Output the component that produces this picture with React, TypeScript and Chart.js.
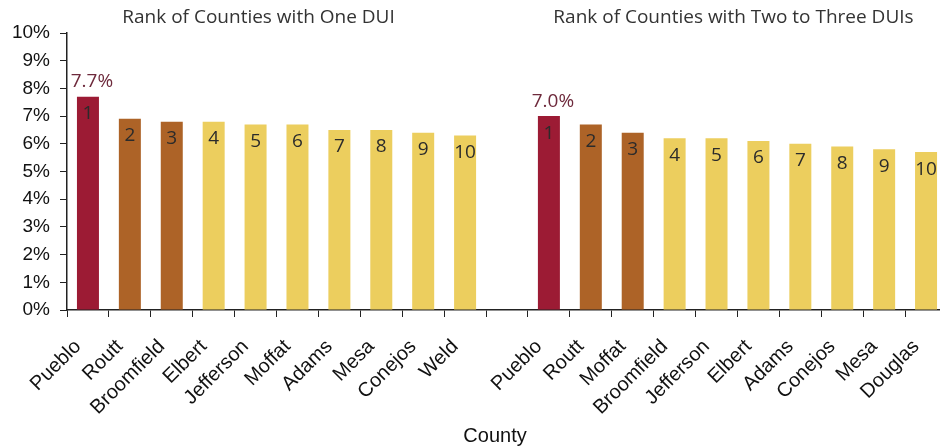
import { useEffect, useRef } from 'react';
import { Chart, registerables } from 'chart.js';

Chart.register(...registerables);

const oneDuiCounties = ['Pueblo', 'Routt', 'Broomfield', 'Elbert', 'Jefferson', 'Moffat', 'Adams', 'Mesa', 'Conejos', 'Weld'];
const oneDuiRates = [7.7, 6.9, 6.8, 6.8, 6.7, 6.7, 6.5, 6.5, 6.4, 6.3];
const twoThreeCounties = ['Pueblo', 'Routt', 'Moffat', 'Broomfield', 'Jefferson', 'Elbert', 'Adams', 'Conejos', 'Mesa', 'Douglas'];
const twoThreeRates = [7.0, 6.7, 6.4, 6.2, 6.2, 6.1, 6.0, 5.9, 5.8, 5.7];
const panelTitles = ['Rank of Counties with One DUI', 'Rank of Counties with Two to Three DUIs'];
const yTickValues = [0, 1, 2, 3, 4, 5, 6, 7, 8, 9, 10];
const xAxisTitle = 'County';

const labels = [...oneDuiCounties, '', ...twoThreeCounties];
const values: (number | null)[] = [...oneDuiRates, null, ...twoThreeRates];
const ranks: (number | null)[] = [
  ...oneDuiRates.map((_, i) => i + 1),
  null,
  ...twoThreeRates.map((_, i) => i + 1),
];

const MAROON = '#9c1b34';
const BROWN = '#ad6327';
const YELLOW = '#ecce5e';

function colorForRank(r: number | null) {
  if (r === 1) return MAROON;
  if (r === 2 || r === 3) return BROWN;
  return YELLOW;
}

const annotations = {
  id: 'annotations',
  afterDatasetsDraw(chart: any) {
    const ctx = chart.ctx as CanvasRenderingContext2D;
    const meta = chart.getDatasetMeta(0);
    const xs = chart.scales.x;
    ctx.save();
    meta.data.forEach((bar: any, i: number) => {
      const v = values[i];
      const r = ranks[i];
      if (v == null || r == null) return;
      ctx.textAlign = 'center';
      ctx.textBaseline = 'middle';
      ctx.font = '19px "Open Sans"';
      ctx.fillStyle = '#2b2b2b';
      ctx.fillText(String(r), bar.x, bar.y + 17);
      if (r === 1) {
        ctx.fillStyle = '#6e2a3c';
        ctx.fillText(v.toFixed(1) + '%', bar.x + 4, bar.y - 15);
      }
    });
    ctx.font = '19px "Open Sans"';
    ctx.fillStyle = '#333333';
    ctx.textAlign = 'center';
    ctx.textBaseline = 'alphabetic';
    const mid1 = xs.getPixelForValue((oneDuiCounties.length - 1) / 2);
    const mid2 = xs.getPixelForValue(oneDuiCounties.length + 1 + (twoThreeCounties.length - 1) / 2);
    ctx.fillText(panelTitles[0], mid1 - 18, 23);
    ctx.fillText(panelTitles[1], mid2 - 4, 23);
    ctx.font = '20px "Liberation Sans"';
    ctx.fillStyle = '#111111';
    const ca = chart.chartArea;
    ctx.fillText(xAxisTitle, (ca.left + ca.right) / 2 - 12, 442);
    ctx.restore();
  },
};

export default function App() {
  const ref = useRef<HTMLCanvasElement>(null);
  useEffect(() => {
    if (!ref.current) return;
    const chart = new Chart(ref.current, {
      type: 'bar',
      data: {
        labels,
        datasets: [
          {
            data: values,
            backgroundColor: ranks.map(colorForRank),
            barPercentage: 0.525,
            categoryPercentage: 1,
          },
        ],
      },
      options: {
        responsive: false,
        animation: false,
        layout: { padding: { top: 33, right: 3, bottom: 0, left: 0 } },
        plugins: { legend: { display: false }, tooltip: { enabled: false }, title: { display: false } },
        scales: {
          x: {
            grid: { drawOnChartArea: false, drawTicks: true, tickLength: 7, color: '#222', offset: true },
            border: { display: true, color: '#222', width: 1.5 },
            ticks: {
              autoSkip: false,
              maxRotation: 45,
              minRotation: 45,
              color: '#111',
              font: { family: '"Liberation Sans"', size: 20 },
              padding: 18,
              labelOffset: -10,
            },
            afterFit: (s: any) => {
              s.height = 138;
              s.paddingLeft = 0;
              s.paddingRight = 0;
            },
          },
          y: {
            min: 0,
            max: 10,
            afterBuildTicks: (s: any) => {
              s.ticks = yTickValues.map((v) => ({ value: v }));
            },
            grid: { drawOnChartArea: false, drawTicks: true, tickLength: 7, color: '#222' },
            border: { display: true, color: '#222', width: 1.5 },
            ticks: {
              color: '#111',
              font: { family: '"Liberation Sans"', size: 19 },
              padding: 10,
              callback: (v: any) => v + '%',
            },
            afterFit: (s: any) => {
              s.width = 67;
              s.paddingTop = 0;
              s.paddingBottom = 0;
            },
          },
        },
      },
      plugins: [annotations],
    });
    return () => chart.destroy();
  }, []);
  return (
    <div style={{ position: 'fixed', left: 0, top: 0, width: 940, height: 448, overflow: 'hidden', background: '#fff' }}>
      <canvas ref={ref} width={950} height={448} style={{ width: 950, height: 448, display: 'block' }} />
    </div>
  );
}
